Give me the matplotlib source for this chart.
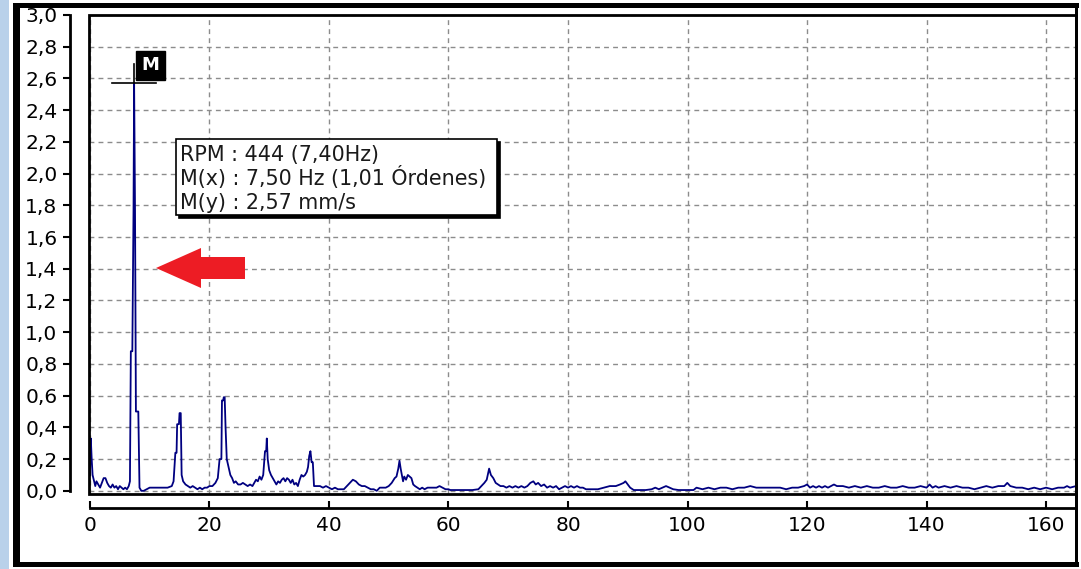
import matplotlib
matplotlib.use('Agg')
import matplotlib.pyplot as plt
from matplotlib.patches import Rectangle, Polygon
from matplotlib.ticker import FuncFormatter, MultipleLocator

# spectrum (Hz, mm/s)
freq_hz = [
    0.0, 0.15, 0.3, 0.45, 0.7, 0.9, 1.1, 1.4, 1.7, 2.0, 2.3, 2.6, 2.9, 3.2, 3.5, 3.8, 4.1, 4.4,
    4.7, 5.0, 5.3, 5.6, 5.9, 6.2, 6.5, 6.7,
    6.85, 7.1, 7.3, 7.4, 7.55, 7.7, 8.1, 8.3, 8.6, 9.0, 9.5, 10.0, 11.0, 12.0, 13.0, 13.7,
    14.0, 14.3, 14.5, 14.6, 14.9, 15.0, 15.2, 15.35, 15.6, 16.0, 16.4, 16.8, 17.2, 17.6, 18.0,
    18.4, 18.8, 19.2, 19.6, 20.0, 20.5, 21.0, 21.4, 21.7, 22.0, 22.1, 22.3, 22.4, 22.55, 22.7,
    22.9, 23.2, 23.5, 23.8, 24.1, 24.4, 24.8, 25.2, 25.6, 26.0, 26.4, 26.8, 27.2, 27.5, 27.8,
    28.1, 28.4, 28.7, 29.0, 29.3, 29.5, 29.6, 29.75, 30.0, 30.3, 30.6, 30.9, 31.2, 31.5, 31.8,
    32.1, 32.4, 32.7, 33.0, 33.3, 33.6, 33.9, 34.2, 34.5, 34.8, 35.1, 35.4, 35.7, 36.0, 36.3,
    36.5, 36.7, 36.9, 37.1, 37.3, 37.5, 38.0, 38.5, 39.0, 39.5, 40.0, 40.5, 41.0, 41.5, 42.0,
    42.5, 43.0, 43.5, 44.0, 44.5, 45.0, 45.5, 46.0, 46.5, 47.0, 47.5, 48.0, 48.5, 49.0, 49.5,
    50.0, 50.5, 51.0, 51.3, 51.6, 51.8, 52.0, 52.2, 52.4, 52.6, 52.9, 53.2, 53.5, 53.8, 54.1,
    54.4, 54.8, 55.2, 55.6, 56.0, 56.5, 57.0, 57.5, 58.0, 58.5, 59.0, 59.5, 60.0, 60.3, 62.0,
    64.0, 65.0, 65.5, 66.0, 66.4, 66.8, 67.1, 67.5, 67.9, 68.3, 68.7, 69.2, 69.7, 70.2, 70.7,
    71.2, 71.7, 72.2, 72.7, 73.2, 73.7, 74.2, 74.6, 75.0, 75.5, 76.0, 76.5, 77.0, 77.5, 78.0,
    78.5, 79.0, 79.5, 80.0, 80.5, 81.0, 81.5, 82.0, 82.5, 83.0, 84.0, 85.0, 86.0, 87.0, 88.0,
    88.7, 89.3, 89.6, 90.0, 90.4, 91.0, 92.0, 93.0, 94.0, 94.6, 95.2, 95.8, 96.4, 97.0, 97.6,
    98.5, 100.0, 101.0, 101.5, 102.5, 103.5, 104.5, 105.5, 106.5, 107.5, 108.5, 109.5, 110.5,
    111.5, 112.5, 113.5, 114.5, 115.5, 116.5, 117.5, 118.5, 119.5, 120.0, 120.5, 121.0, 121.5,
    122.0, 122.5, 123.0, 123.5, 124.0, 124.5, 125.0, 126.0, 127.0, 128.0, 129.0, 130.0, 131.0,
    132.0, 133.0, 134.0, 135.0, 136.0, 137.0, 138.0, 139.0, 140.0, 140.5, 141.0, 141.5, 142.0,
    143.0, 144.0, 145.0, 146.0, 147.0, 148.0, 149.0, 150.0, 151.0, 152.0, 153.0, 153.5, 154.0,
    155.0, 156.0, 157.0, 158.0, 159.0, 160.0, 161.0, 162.0, 163.0, 163.5, 164.0, 165.0,
]
velocity = [
    0.10, 0.33, 0.20, 0.10, 0.06, 0.03, 0.06, 0.04, 0.02, 0.05, 0.08, 0.08, 0.05, 0.03, 0.02, 0.04, 0.02, 0.03,
    0.01, 0.03, 0.02, 0.01, 0.02, 0.01, 0.03, 0.06,
    0.88, 0.88, 1.77, 2.57, 1.77, 0.50, 0.50, 0.02, 0.00, 0.00, 0.01, 0.02, 0.02, 0.02, 0.02, 0.03,
    0.06, 0.24, 0.24, 0.42, 0.42, 0.49, 0.49, 0.10, 0.06, 0.04, 0.03, 0.02, 0.03, 0.02, 0.01,
    0.02, 0.01, 0.02, 0.02, 0.03, 0.03, 0.05, 0.08, 0.20, 0.20, 0.57, 0.57, 0.59, 0.59, 0.40,
    0.20, 0.15, 0.10, 0.08, 0.05, 0.06, 0.04, 0.04, 0.05, 0.04, 0.03, 0.04, 0.03, 0.05, 0.07,
    0.06, 0.09, 0.07, 0.10, 0.25, 0.25, 0.33, 0.20, 0.13, 0.10, 0.08, 0.06, 0.04, 0.06, 0.05,
    0.07, 0.08, 0.06, 0.08, 0.07, 0.05, 0.07, 0.04, 0.05, 0.03, 0.07, 0.10, 0.09, 0.10, 0.12,
    0.15, 0.22, 0.25, 0.18, 0.18, 0.03, 0.03, 0.03, 0.02, 0.03, 0.02, 0.01, 0.02, 0.01, 0.01,
    0.01, 0.03, 0.05, 0.07, 0.06, 0.04, 0.03, 0.03, 0.02, 0.01, 0.01, 0.00, 0.02, 0.02, 0.02,
    0.03, 0.05, 0.08, 0.09, 0.14, 0.19, 0.14, 0.10, 0.06, 0.09, 0.07, 0.10, 0.09, 0.08, 0.04,
    0.03, 0.02, 0.01, 0.02, 0.01, 0.02, 0.02, 0.02, 0.02, 0.03, 0.02, 0.01, 0.01, 0.005, 0.005,
    0.005, 0.01, 0.03, 0.05, 0.07, 0.14, 0.10, 0.08, 0.05, 0.04, 0.03, 0.03, 0.02, 0.03, 0.02,
    0.03, 0.02, 0.03, 0.02, 0.03, 0.05, 0.06, 0.04, 0.05, 0.03, 0.04, 0.02, 0.03, 0.02, 0.03,
    0.01, 0.02, 0.03, 0.02, 0.03, 0.02, 0.03, 0.02, 0.02, 0.01, 0.01, 0.01, 0.02, 0.03, 0.03,
    0.04, 0.05, 0.06, 0.04, 0.02, 0.005, 0.005, 0.005, 0.01, 0.02, 0.01, 0.02, 0.03, 0.02, 0.01,
    0.005, 0.005, 0.005, 0.02, 0.01, 0.02, 0.01, 0.02, 0.02, 0.01, 0.02, 0.02, 0.03,
    0.02, 0.02, 0.02, 0.02, 0.02, 0.01, 0.02, 0.02, 0.03, 0.04, 0.02, 0.03, 0.02,
    0.03, 0.02, 0.03, 0.02, 0.03, 0.04, 0.03, 0.03, 0.02, 0.03, 0.02, 0.03, 0.02,
    0.02, 0.03, 0.02, 0.02, 0.03, 0.02, 0.02, 0.03, 0.02, 0.04, 0.02, 0.03, 0.02,
    0.03, 0.02, 0.03, 0.02, 0.02, 0.01, 0.02, 0.03, 0.02, 0.03, 0.03, 0.05, 0.03,
    0.02, 0.02, 0.01, 0.02, 0.01, 0.02, 0.01, 0.02, 0.02, 0.03, 0.02, 0.03,
]

marker_freq = 7.4
marker_amp = 2.57
info_lines = ['RPM : 444 (7,40Hz)', 'M(x) : 7,50 Hz (1,01 Órdenes)', 'M(y) : 2,57 mm/s']

W, H = 1081, 569
plt.rcParams['font.family'] = ['DejaVu Sans']


def fig_box(x, y, w, h):
    # pixel box (top-left origin) -> figure fraction
    return x / W, 1 - (y + h) / H, w / W, h / H


fig = plt.figure(figsize=(W / 100, H / 100), dpi=100)
fig.patch.set_facecolor('white')

# window chrome: blue strip + black frame
for (x, y, w, h), c in [((0, 0, 9, H), '#b9d1ea'), ((13, 3, 7, 564), 'black'),
                        ((13, 3, 1066, 5), 'black'), ((13, 562, 1066, 5), 'black'),
                        ((1075, 3, 3, 564), 'black')]:
    fx, fy, fw, fh = fig_box(x, y, w, h)
    fig.patches.append(Rectangle((fx, fy), fw, fh, transform=fig.transFigure,
                                 facecolor=c, edgecolor='none', zorder=0))

ax = fig.add_axes(fig_box(89, 15, 987, 479))
ax.set_xlim(-0.15, 165.0)
ax.set_ylim(-0.02, 3.0)

ax.plot(freq_hz, velocity, color='#000080', lw=1.3, zorder=3)

# grid
ax.xaxis.set_major_locator(MultipleLocator(20))
ax.yaxis.set_major_locator(MultipleLocator(0.2))
ax.grid(True, color='#8c8c8c', lw=1.0, dashes=(3.5, 3.0))

# plot box
ax.add_patch(Rectangle((0, 0), 1, 1, transform=ax.transAxes, fill=False,
                       edgecolor='black', lw=2.0, clip_on=False, zorder=4))

# detached axis lines
ax.spines['top'].set_visible(False)
ax.spines['right'].set_visible(False)
ax.spines['left'].set_position(('outward', 13.7))
ax.spines['bottom'].set_position(('outward', 10))
ax.spines['left'].set_bounds(0, 3.0)
ax.spines['bottom'].set_bounds(0, 165)
ax.spines['left'].set_linewidth(2)
ax.spines['bottom'].set_linewidth(2)
ax.tick_params(axis='y', direction='out', length=5, width=1.5, pad=4, labelsize=14.5)
ax.tick_params(axis='x', direction='in', length=5, width=1.5, pad=6, labelsize=14.5)
ax.yaxis.set_major_formatter(FuncFormatter(lambda v, p: f'{v:.1f}'.replace('.', ',')))
ax.xaxis.set_major_formatter(FuncFormatter(lambda v, p: f'{v:.0f}'))

# marker cross + label
ax.plot([marker_freq - 3.7, marker_freq + 3.6], [marker_amp, marker_amp], color='black', lw=1.2, zorder=5)
ax.plot([marker_freq, marker_freq], [marker_amp, marker_amp + 0.12], color='black', lw=1.2, zorder=5)
ax.text(marker_freq + 1.2, marker_amp + 0.055, 'M', color='white', fontsize=13, fontweight='bold',
        ha='left', va='bottom', zorder=6,
        bbox=dict(boxstyle='square,pad=0.3', fc='black', ec='black'))

# info box with shadow
for (x, y), c in [((179, 142), 'black'), ((176, 139), 'white')]:
    fx, fy, fw, fh = fig_box(x, y, 321, 76)
    fig.patches.append(Rectangle((fx, fy), fw, fh, transform=fig.transFigure,
                                 facecolor=c, edgecolor='black', lw=1.2, zorder=5))
for i, line in enumerate(info_lines):
    fig.text(180 / W, 1 - (161 + 24 * i) / H, line, fontsize=14.9, va='baseline',
             color='#1a1a1a', zorder=6)

# red arrow
arrow_px = [(156, 268), (201, 248), (201, 257), (245, 257), (245, 279), (201, 279), (201, 288)]
fig.patches.append(Polygon([(x / W, 1 - y / H) for x, y in arrow_px], closed=True,
                           transform=fig.transFigure, facecolor='#ed1c24', edgecolor='none', zorder=6))

fig.savefig('out.png', dpi=100)
